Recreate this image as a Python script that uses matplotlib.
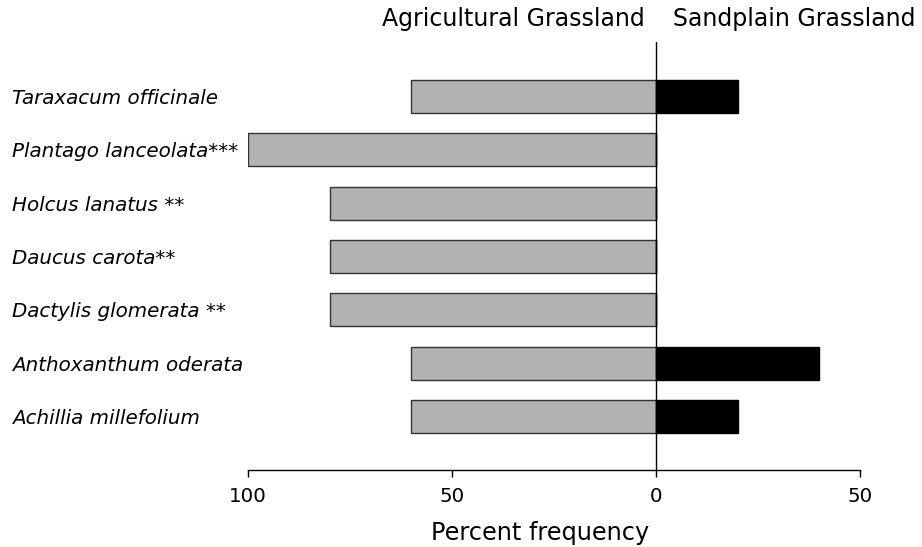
import matplotlib
matplotlib.use("Agg")
import matplotlib.pyplot as plt
import numpy as np

species = ["Taraxacum officinale", "Plantago lanceolata***", "Holcus lanatus **",
           "Daucus carota**", "Dactylis glomerata **", "Anthoxanthum oderata",
           "Achillia millefolium"]
agricultural = [60, 100, 80, 80, 80, 60, 60]
sandplain = [20, 0, 0, 0, 0, 40, 20]
xtick_values = [-100, -50, 0, 50]
xtick_labels = ["100", "50", "0", "50"]

plt.rcParams['font.family'] = ['DejaVu Sans']

fig = plt.figure(figsize=(9.22, 5.47), dpi=100)
W, H = 922, 547
ax = fig.add_axes([248 / W, 1 - 470 / H, (860 - 248) / W, (470 - 42) / H])

y = np.arange(len(species))
ax.barh(y, [-v for v in agricultural], height=0.62, color="#b2b2b2",
        edgecolor="#333333", linewidth=1.0)
ax.barh(y, sandplain, height=0.62, color="black", edgecolor="black", linewidth=1.0)
ax.axvline(0, color="black", linewidth=1.0)

ax.set_xlim(-100, 50)
ax.set_ylim(7.0, -1.02)
ax.set_xticks(xtick_values)
ax.set_xticklabels(xtick_labels, fontsize=14.3)
ax.set_yticks(y)
ax.set_yticklabels(species, fontsize=14.3, style="italic", ha="left")
ax.tick_params(axis="y", length=0, pad=236 * 72 / 100)
ax.tick_params(axis="x", length=5, width=1.0, pad=7.3)
for s in ["top", "right", "left"]:
    ax.spines[s].set_visible(False)
ax.spines["bottom"].set_linewidth(1.0)
ax.set_xlabel("Percent frequency", fontsize=17.3, va="baseline")
ax.xaxis.set_label_coords((540 - 248) / 612, (470 - 540) / 428)

fig.text(513 / W, 1 - 26 / H, "Agricultural Grassland", fontsize=17,
         ha="center", va="baseline")
fig.text(794.5 / W, 1 - 26 / H, "Sandplain Grassland", fontsize=17,
         ha="center", va="baseline")

fig.savefig("out.png", dpi=100)
